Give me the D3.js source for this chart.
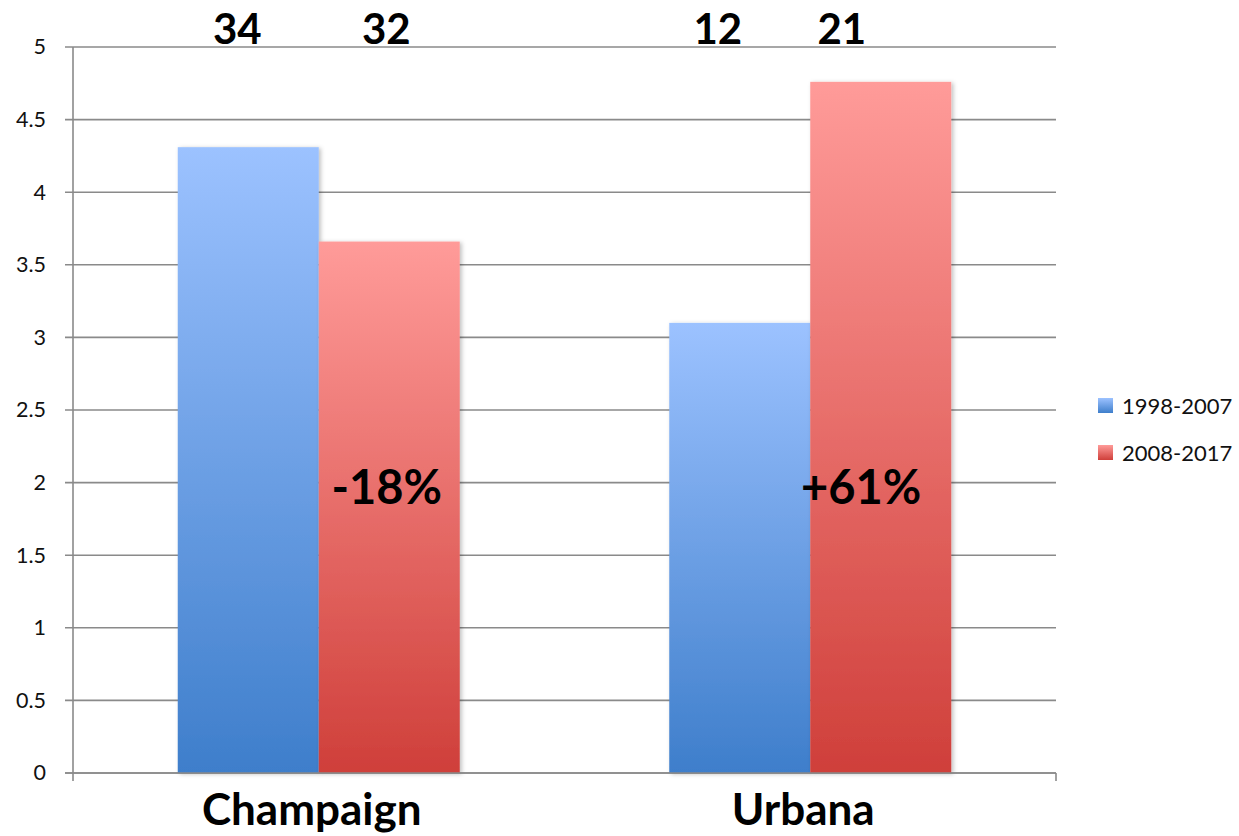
<!DOCTYPE html>
<html>
<head>
<meta charset="utf-8">
<script src="https://cdn.jsdelivr.net/npm/d3@7"></script>
<style>
  html, body { margin: 0; padding: 0; background: #fff; }
  svg { display: block; }
</style>
</head>
<body>
<svg id="chart" width="1239" height="836"></svg>
<script>
// Cities compared across two decades
const categories = ["Champaign", "Urbana"];
const seriesNames = ["1998-2007", "2008-2017"];
const values1998 = [4.31, 3.10];
const values2008 = [3.66, 4.76];
// Counts written above each bar
const counts1998 = [34, 12];
const counts2008 = [32, 21];
// Change between the two decades
const changeLabels = ["-18%", "+61%"];
const yTicks = [0, 0.5, 1, 1.5, 2, 2.5, 3, 3.5, 4, 4.5, 5];

const svg = d3.select("#chart");
const fontFamily = "Lato, 'Open Sans', 'Liberation Sans', sans-serif";

const plotLeft = 73, plotRight = 1056, plotTop = 47, plotBottom = 773;

const y = d3.scaleLinear().domain([0, 5]).range([plotBottom, plotTop]);
const x = d3.scaleBand().domain(categories).range([plotLeft, plotRight]).padding(0);
const xs = d3.scaleBand().domain(seriesNames).range([0, x.bandwidth()])
  .paddingInner(0).paddingOuter(0.743);

// Gradients and bar shadow
const defs = svg.append("defs");
const gradStops = [["#9cc2ff", "#3e7ecb"], ["#ff9b99", "#cf3f3a"]];
seriesNames.forEach((s, i) => {
  const g = defs.append("linearGradient").attr("id", "grad" + i)
    .attr("x1", 0).attr("y1", 0).attr("x2", 0).attr("y2", 1);
  g.append("stop").attr("offset", "0%").attr("stop-color", gradStops[i][0]);
  g.append("stop").attr("offset", "100%").attr("stop-color", gradStops[i][1]);
});
const f = defs.append("filter").attr("id", "shadow")
  .attr("x", "-10%").attr("y", "-10%").attr("width", "130%").attr("height", "130%");
f.append("feDropShadow").attr("dx", 2).attr("dy", 1).attr("stdDeviation", 2)
  .attr("flood-color", "#000").attr("flood-opacity", 0.25);

// Gridlines
svg.append("g").selectAll("line").data(yTicks).join("line")
  .attr("x1", plotLeft - 8).attr("x2", plotRight)
  .attr("y1", d => y(d)).attr("y2", d => y(d))
  .attr("stroke", "#8a8a8a").attr("stroke-width", 1.6);

// Y axis with tick labels
const yAxis = d3.axisLeft(y).tickValues(yTicks).tickSize(0).tickPadding(27)
  .tickFormat(d => String(d));
const yg = svg.append("g").attr("transform", `translate(${plotLeft},0)`).call(yAxis);
yg.select(".domain").remove();
yg.selectAll("text").attr("font-family", fontFamily).attr("font-size", 21.5)
  .attr("fill", "#111");

svg.append("line").attr("x1", plotLeft).attr("x2", plotLeft)
  .attr("y1", plotTop).attr("y2", plotBottom + 8)
  .attr("stroke", "#8a8a8a").attr("stroke-width", 1.6);

// Bars
const rows = [];
categories.forEach((c, i) => {
  rows.push({ cat: c, series: seriesNames[0], value: values1998[i], idx: 0 });
  rows.push({ cat: c, series: seriesNames[1], value: values2008[i], idx: 1 });
});
svg.append("g").selectAll("rect").data(rows).join("rect")
  .attr("x", d => x(d.cat) + xs(d.series))
  .attr("y", d => y(d.value))
  .attr("width", xs.bandwidth())
  .attr("height", d => y(0) - y(d.value))
  .attr("fill", d => `url(#grad${d.idx})`)
  .attr("filter", "url(#shadow)");

// X axis line
svg.append("line").attr("x1", plotLeft - 8).attr("x2", plotRight)
  .attr("y1", plotBottom).attr("y2", plotBottom)
  .attr("stroke", "#8a8a8a").attr("stroke-width", 1.6);
svg.append("line").attr("x1", plotRight).attr("x2", plotRight)
  .attr("y1", plotBottom).attr("y2", plotBottom + 8)
  .attr("stroke", "#8a8a8a").attr("stroke-width", 1.6);

// Category labels
svg.append("g").selectAll("text").data(categories).join("text")
  .attr("x", d => x(d) + x.bandwidth() / 2 - 7)
  .attr("y", 825)
  .attr("text-anchor", "middle")
  .attr("font-family", fontFamily).attr("font-weight", "bold")
  .attr("font-size", 44).attr("fill", "#000")
  .text(d => d);

// Counts above the plot, nudged from each bar's centre
const countNudge = [[-11, -3], [-22, -39]];
categories.forEach((c, i) => {
  [counts1998[i], counts2008[i]].forEach((n, j) => {
    const cx = x(c) + xs(seriesNames[j]) + xs.bandwidth() / 2 + countNudge[i][j];
    svg.append("text")
      .attr("x", cx).attr("y", 44)
      .attr("text-anchor", "middle")
      .attr("font-family", fontFamily).attr("font-weight", "bold")
      .attr("font-size", 42).attr("fill", "#000")
      .text(n);
  });
});

// Change labels
svg.append("g").selectAll("text").data(changeLabels).join("text")
  .attr("x", (d, i) => x(categories[i]) + xs(seriesNames[1]) + (i === 0 ? 68 : 51))
  .attr("y", 504)
  .attr("text-anchor", "middle")
  .attr("font-family", fontFamily).attr("font-weight", "bold")
  .attr("font-size", 47).attr("fill", "#000")
  .text(d => d);

// Legend
const legend = svg.append("g").attr("transform", "translate(1098,398)");
seriesNames.forEach((s, i) => {
  const g = legend.append("g").attr("transform", `translate(0,${i * 47})`);
  g.append("rect").attr("width", 15).attr("height", 15)
    .attr("fill", `url(#grad${i})`);
  g.append("text").attr("x", 24).attr("y", 16)
    .attr("font-family", fontFamily).attr("font-size", 22).attr("fill", "#111")
    .text(s);
});
</script>
</body>
</html>
